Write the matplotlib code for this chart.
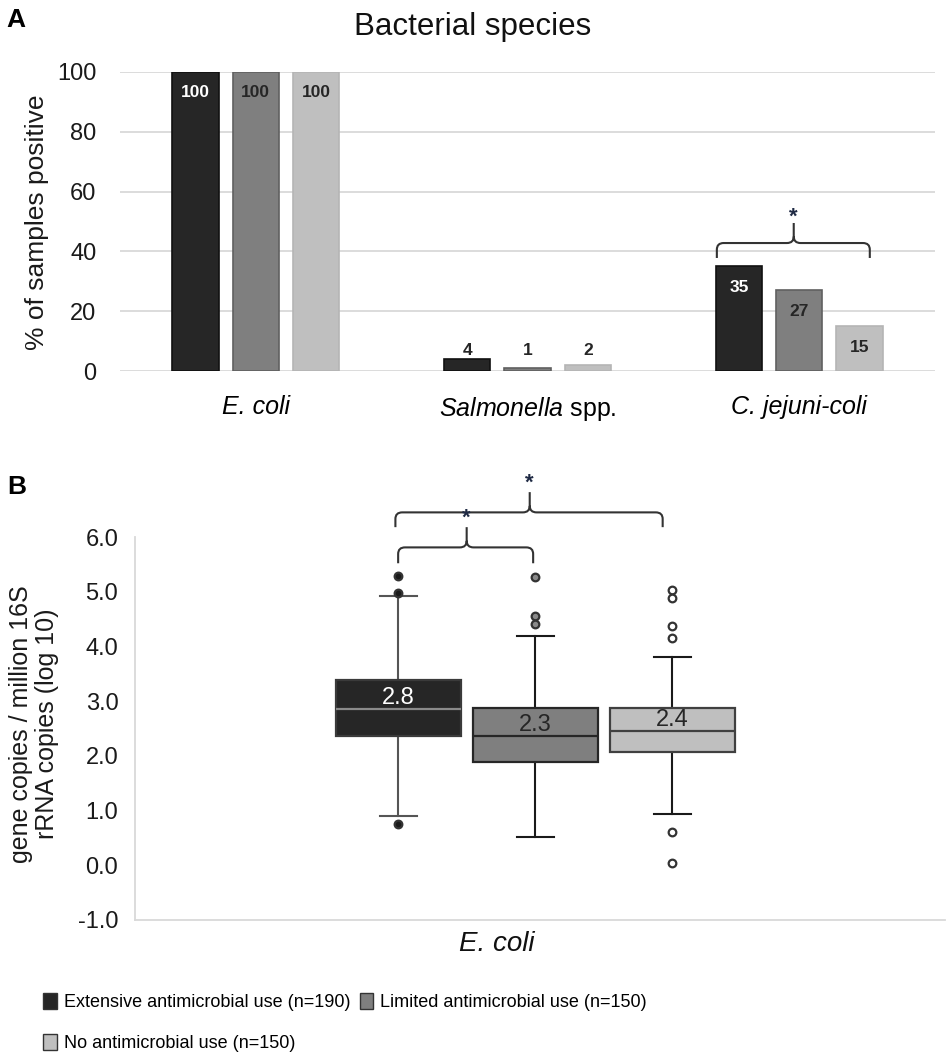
import matplotlib
matplotlib.use('Agg')
import matplotlib.pyplot as plt
from matplotlib.path import Path
from matplotlib.patches import PathPatch, Patch
import numpy as np

plt.rcParams['font.family'] = ['Liberation Sans', 'DejaVu Sans']
plt.rcParams['mathtext.fontset'] = 'custom'
plt.rcParams['mathtext.it'] = 'Liberation Sans:italic'
plt.rcParams['mathtext.rm'] = 'Liberation Sans'

# ---------------- data ----------------
groups = ['Extensive antimicrobial use (n=190)',
          'Limited antimicrobial use (n=150)',
          'No antimicrobial use (n=150)']
group_colors = ['#262626', '#7f7f7f', '#bfbfbf']

species = ['E. coli', 'Salmonella spp.', 'C. jejuni-coli']
pct_extensive = [100, 4, 35]
pct_limited = [100, 1, 27]
pct_none = [100, 2, 15]

# Panel B: E. coli gene copies / million 16S rRNA copies (log 10)
box_whislo = [0.90, 0.51, 0.93]
box_q1 = [2.36, 1.88, 2.07]
box_med = [2.85, 2.36, 2.45]
box_q3 = [3.38, 2.87, 2.87]
box_whishi = [4.92, 4.19, 3.80]
box_fliers = [[5.28, 4.97, 0.75],
              [5.27, 4.55, 4.41],
              [5.03, 4.88, 4.37, 4.15, 0.60, 0.04]]
box_labels = ['2.8', '2.3', '2.4']

W, H = 950, 1059
fig = plt.figure(figsize=(W / 100, H / 100), dpi=100)


def fx(px):
    return px / W


def fy(py):
    return 1 - py / H


def brace(ax, x0, x1, xm, yh, yend, ytip, rx, ry, color='#333333'):
    verts = [(x0, yend), (x0, yh - ry), (x0, yh), (x0 + rx, yh),
             (xm - rx, yh), (xm, yh), (xm, yh + ry), (xm, ytip),
             (xm, yh + ry), (xm, yh), (xm + rx, yh),
             (x1 - rx, yh), (x1, yh), (x1, yh - ry), (x1, yend)]
    codes = [Path.MOVETO, Path.LINETO, Path.CURVE3, Path.CURVE3,
             Path.LINETO, Path.CURVE3, Path.CURVE3, Path.LINETO,
             Path.MOVETO, Path.CURVE3, Path.CURVE3,
             Path.LINETO, Path.CURVE3, Path.CURVE3, Path.LINETO]
    p = PathPatch(Path(verts, codes), fill=False, edgecolor=color, lw=1.5,
                  clip_on=False)
    ax.add_patch(p)


# ---------------- Panel A ----------------
ax1 = fig.add_axes([fx(120), fy(371), fx(935) - fx(120), fy(72) - fy(371)])
x = np.arange(len(species))
offsets = [-0.222, 0.0, 0.222]
bw = 0.17
series = [pct_extensive, pct_limited, pct_none]
edge_cols = ['#111111', '#606060', '#b5b5b5']
for i, vals in enumerate(series):
    ax1.bar(x + offsets[i], vals, bw, color=group_colors[i],
            edgecolor=edge_cols[i], lw=1.2, zorder=3)
    for xi, v in zip(x, vals):
        if v >= 10:
            ty = v - 7
            col = 'white' if i == 0 else '#262626'
        else:
            ty = 7
            col = '#262626'
        ax1.text(xi + offsets[i], ty, f'{v}', ha='center', va='center',
                 fontsize=12.5, fontweight='bold', color=col, zorder=4)

ax1.set_xlim(-0.5, 2.5)
ax1.set_ylim(0, 100)
ax1.set_yticks(np.arange(0, 101, 20))
ax1.yaxis.grid(True, color='#d9d9d9', lw=1.3, zorder=0)
ax1.set_axisbelow(True)
for s in ax1.spines.values():
    s.set_visible(False)
ax1.tick_params(axis='both', length=0)
ax1.tick_params(axis='y', labelsize=17, pad=17, colors='#1a1a1a')
ax1.set_xticks(x)
tick_texts = [species[0], r'$\mathit{Salmonella}$ spp.', species[2]]
tls = ax1.set_xticklabels(tick_texts, fontsize=18)
tls[0].set_fontstyle('italic')
tls[2].set_fontstyle('italic')
ax1.tick_params(axis='x', pad=17)

brace(ax1, 1.697, 2.26, 1.98, 42.8, 37.8, 49.5, 0.025, 2.2)
ax1.text(1.98, 51.5, '*', ha='center', va='center', fontsize=16,
         fontweight='bold', color='#1f2a44')

fig.text(fx(473), fy(27), 'Bacterial species', ha='center', va='center',
         fontsize=22.5, color='#111111')
fig.text(fx(37), fy(222), '% of samples positive', rotation=90,
         ha='center', va='center', fontsize=19, color='#1a1a1a')
fig.text(fx(16), fy(20), 'A', ha='center', va='center', fontsize=19,
         fontweight='bold')

# ---------------- Panel B ----------------
ax2 = fig.add_axes([fx(135), fy(920), fx(945) - fx(135), fy(537) - fy(920)])
stats = []
for i in range(3):
    stats.append(dict(med=box_med[i], q1=box_q1[i], q3=box_q3[i],
                      whislo=box_whislo[i], whishi=box_whishi[i],
                      fliers=box_fliers[i]))
pos = [0, 1, 2]
bp = ax2.bxp(stats, positions=pos, widths=0.912, patch_artist=True,
             showfliers=True, capwidths=0.27)
box_edges = ['#3a3a3a', '#262626', '#404040']
med_cols = ['#8a8a8a', '#262626', '#404040']
whisk_cols = ['#555555', '#1a1a1a', '#1a1a1a']
flier_face = ['#1a1a1a', '#8a8a8a', 'white']
for i in range(3):
    bp['boxes'][i].set(facecolor=group_colors[i], edgecolor=box_edges[i],
                       lw=1.6, zorder=3)
    bp['medians'][i].set(color=med_cols[i], lw=1.6, zorder=4)
    for j in (2 * i, 2 * i + 1):
        bp['whiskers'][j].set(color=whisk_cols[i], lw=1.5)
        bp['caps'][j].set(color=whisk_cols[i], lw=1.5)
    bp['fliers'][i].set(marker='o', markerfacecolor=flier_face[i],
                        markeredgecolor='#333333', markersize=5.5,
                        markeredgewidth=1.6)
    ax2.text(pos[i], box_med[i] + 0.2, box_labels[i], ha='center',
             va='center', fontsize=17,
             color='white' if i == 0 else '#262626', zorder=5)

ax2.set_xlim(-1.92, 3.99)
ax2.set_ylim(-1, 6)
ax2.set_yticks(np.arange(-1, 6.01, 1.0))
ax2.set_yticklabels([f'{v:.1f}' for v in np.arange(-1, 6.01, 1.0)])
ax2.set_xticks([])
for side in ('top', 'right'):
    ax2.spines[side].set_visible(False)
for side in ('left', 'bottom'):
    ax2.spines[side].set_color('#d9d9d9')
    ax2.spines[side].set_linewidth(1.3)
ax2.tick_params(axis='y', length=0, labelsize=17, pad=12, colors='#1a1a1a')

brace(ax2, -0.02, 1.93, 0.96, 6.45, 6.18, 6.82, 0.05, 0.12)
ax2.text(0.96, 6.98, '*', ha='center', va='center', fontsize=16,
         fontweight='bold', color='#1f2a44', clip_on=False)
brace(ax2, 0.0, 0.985, 0.50, 5.81, 5.52, 6.18, 0.05, 0.12)
ax2.text(0.50, 6.34, '*', ha='center', va='center', fontsize=16,
         fontweight='bold', color='#1f2a44', clip_on=False)

fig.text(fx(497), fy(944), 'E. coli', ha='center', va='center',
         fontsize=20, fontstyle='italic', color='#111111')
fig.text(fx(34), fy(724),
         'gene copies / million 16S\nrRNA copies (log 10)', rotation=90,
         ha='center', va='center', fontsize=18, linespacing=1.1,
         multialignment='center', color='#1a1a1a')
fig.text(fx(17), fy(487), 'B', ha='center', va='center', fontsize=19,
         fontweight='bold')

# ---------------- Legend ----------------
handles = [Patch(facecolor=group_colors[i], edgecolor='#333333', lw=1.0)
           for i in range(3)]
order = [0, 2, 1]
leg = fig.legend([handles[k] for k in order], [groups[k] for k in order],
                 ncol=2, loc='upper left',
                 bbox_to_anchor=(fx(36), fy(986)), frameon=False,
                 prop={'size': 13},
                 handlelength=0.75, handleheight=1.0, handletextpad=0.4,
                 columnspacing=0.5, labelspacing=1.25, borderaxespad=0)

fig.savefig('out.png', dpi=100)
